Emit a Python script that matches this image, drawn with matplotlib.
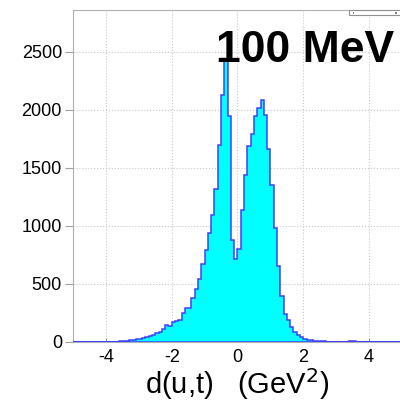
import numpy as np
import matplotlib
matplotlib.use("Agg")
import matplotlib.pyplot as plt
from matplotlib.patches import Rectangle

# histogram: 100 bins of width 0.1 from -5 to 5
bin_edges = np.linspace(-5.0, 5.0, 101)
counts = [
    0, 0, 0, 0, 0, 0, 0, 0, 0, 0,                      # -5.0 .. -4.1
    1, 1, 2, 3, 5, 7, 10, 13, 17, 25,                  # -4.0 .. -3.1
    30, 36, 45, 52, 62, 75, 85, 110, 145, 138,         # -3.0 .. -2.1
    168, 183, 192, 248, 290, 293, 375, 455, 540, 670,  # -2.0 .. -1.1
    790, 940, 1090, 1318, 1695, 2125, 2427, 1950, 875, 715,   # -1.0 .. -0.1
    800, 1140, 1435, 1690, 1790, 1942, 2018, 2080, 1958, 1660,  # 0.0 .. 0.9
    1352, 980, 652, 400, 244, 187, 125, 85, 60, 42,    # 1.0 .. 1.9
    26, 20, 16, 12, 9, 7, 5, 4, 3, 2,                  # 2.0 .. 2.9
    2, 1, 1, 2, 6, 5, 1, 0, 0, 0,                      # 3.0 .. 3.9
    0, 0, 0, 0, 0, 0, 0, 0, 0, 0,                      # 4.0 .. 4.9
]
x_ticks = [-4, -2, 0, 2, 4]
y_ticks = [0, 500, 1000, 1500, 2000, 2500]
label_text = "100 MeV"

plt.rcParams["font.family"] = ["Liberation Sans", "DejaVu Sans"]
plt.rcParams["axes.unicode_minus"] = False

fig = plt.figure(figsize=(4.0, 4.04), dpi=100)
ax = fig.add_axes([0.1825, 0.1535, 0.8225, 0.822])

centers = 0.5 * (bin_edges[:-1] + bin_edges[1:])
ax.hist(centers, bins=bin_edges, weights=counts, histtype="stepfilled",
        facecolor="#00ffff", edgecolor="#4040ff", linewidth=1.1, zorder=3)

ax.set_xlim(-5, 5)
ax.set_ylim(0, 2860)
ax.set_xticks(x_ticks)
ax.set_yticks(y_ticks)
ax.grid(True, color="#c8c8c8", linestyle=":", linewidth=0.8, zorder=0)
ax.set_axisbelow(True)

ax.tick_params(axis="y", direction="out", length=6, width=0.8, color="#a0a0a0",
               labelsize=13, pad=2)
ax.tick_params(axis="x", direction="in", length=3, width=0.8, color="#909090",
               labelsize=13, pad=5)
for side in ("left", "top", "bottom", "right"):
    ax.spines[side].set_color("#b0b0b0")
    ax.spines[side].set_linewidth(0.8)

ax.set_xlabel(r"d(u,t)   (GeV$^2$)", fontsize=21, labelpad=0)

ax.text(0.435, 0.843, label_text, transform=ax.transAxes, ha="left",
        va="baseline", fontsize=32, fontweight="bold", color="black", zorder=5)

# small squashed box at the top right (stats box remnant)
fig.patches.append(Rectangle((0.8725, 0.963), 0.13, 0.0124, transform=fig.transFigure,
                             facecolor="white", edgecolor="#909090", linewidth=0.8))
fig.patches.append(Rectangle((0.8815, 0.9665), 0.004, 0.005, transform=fig.transFigure,
                             facecolor="#808080", edgecolor="none"))
fig.patches.append(Rectangle((0.988, 0.9665), 0.004, 0.005, transform=fig.transFigure,
                             facecolor="#808080", edgecolor="none"))

fig.savefig("out.png", dpi=100)
